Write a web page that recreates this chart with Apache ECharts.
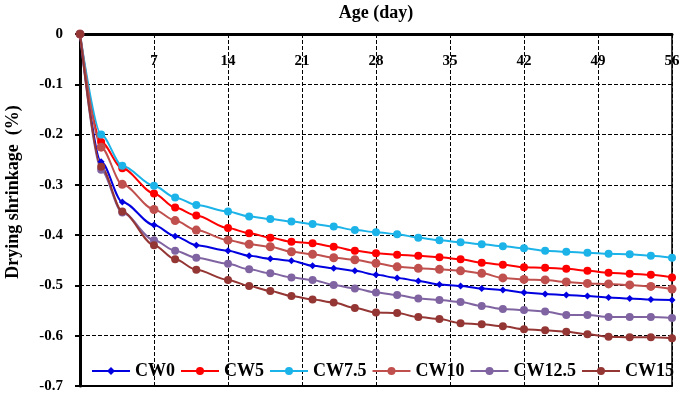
<!DOCTYPE html>
<html>
<head>
<meta charset="utf-8">
<script src="https://cdn.jsdelivr.net/npm/echarts@6/dist/echarts.min.js"></script>
<style>
  html, body { margin: 0; padding: 0; background: #fff; }
  #shrinkage { width: 685px; height: 395px; }
</style>
</head>
<body>
<div id="shrinkage"></div>
<script>
// 龄期 (day)
const days = [0, 2, 4, 7, 9, 11, 14, 16, 18, 20, 22, 24, 26, 28, 30, 32, 34, 36, 38, 40, 42, 44, 46, 48, 50, 52, 54, 56];

const cw0 = [0, -0.254, -0.334, -0.380, -0.402, -0.420, -0.431, -0.441, -0.447, -0.451, -0.461, -0.466, -0.471, -0.479, -0.485, -0.491, -0.498, -0.501, -0.506, -0.509, -0.514, -0.517, -0.519, -0.521, -0.524, -0.526, -0.528, -0.529];
const cw5 = [0, -0.215, -0.267, -0.317, -0.345, -0.361, -0.386, -0.396, -0.405, -0.413, -0.416, -0.423, -0.431, -0.436, -0.439, -0.441, -0.444, -0.448, -0.455, -0.459, -0.464, -0.465, -0.467, -0.471, -0.475, -0.477, -0.479, -0.484];
const cw75 = [0, -0.200, -0.262, -0.302, -0.325, -0.340, -0.353, -0.363, -0.368, -0.373, -0.378, -0.383, -0.390, -0.394, -0.398, -0.405, -0.410, -0.414, -0.418, -0.422, -0.426, -0.431, -0.433, -0.435, -0.437, -0.438, -0.441, -0.445];
const cw10 = [0, -0.225, -0.299, -0.349, -0.371, -0.390, -0.410, -0.418, -0.423, -0.433, -0.438, -0.445, -0.449, -0.456, -0.463, -0.466, -0.468, -0.471, -0.476, -0.485, -0.488, -0.489, -0.493, -0.496, -0.497, -0.499, -0.502, -0.507];
const cw125 = [0, -0.270, -0.355, -0.410, -0.431, -0.445, -0.457, -0.468, -0.476, -0.484, -0.489, -0.499, -0.506, -0.514, -0.519, -0.526, -0.529, -0.533, -0.541, -0.547, -0.549, -0.552, -0.559, -0.559, -0.563, -0.563, -0.563, -0.565];
const cw15 = [0, -0.264, -0.353, -0.420, -0.448, -0.469, -0.489, -0.501, -0.511, -0.521, -0.528, -0.534, -0.545, -0.554, -0.555, -0.563, -0.567, -0.575, -0.577, -0.581, -0.587, -0.589, -0.592, -0.597, -0.602, -0.603, -0.603, -0.605];

const seriesNames = ["CW0", "CW5", "CW7.5", "CW10", "CW12.5", "CW15"];
const seriesData = [cw0, cw5, cw75, cw10, cw125, cw15];
const seriesColors = ["#0000e0", "#ff0000", "#1cb3e8", "#c0504d", "#8064a2", "#943634"];

const font = "'Liberation Serif', 'Times New Roman', serif";

function pairs(ys) {
  return days.map((d, i) => [d, ys[i]]);
}

function drawLine() {
  const chart = echarts.init(document.getElementById("shrinkage"));

  const series = seriesNames.map((name, i) => {
    return {
      name: name,
      type: "line",
      xAxisIndex: 0,
      yAxisIndex: 0,
      smooth: 0.3,
      smoothMonotone: "x",
      symbol: i === 0 ? "diamond" : "circle",
      symbolSize: i === 0 ? 7 : (i === 3 ? 9 : 8),
      itemStyle: { color: seriesColors[i] },
      lineStyle: { color: seriesColors[i], width: 2 },
      data: pairs(seriesData[i])
    };
  });

  let option = {
    animation: false,
    backgroundColor: "#fff",
    grid: { left: 80, right: 13, top: 34, bottom: 9, outerBoundsMode: "none" },
    legend: {
      data: seriesNames,
      left: 86,
      top: 357,
      itemWidth: 38,
      itemHeight: 10,
      itemGap: 5,
      textStyle: { fontFamily: font, fontWeight: "bold", fontSize: 18, color: "#000" }
    },
    graphic: [
      {
        type: "text",
        x: 13,
        y: 192,
        rotation: Math.PI / 2,
        style: {
          text: "Drying shrinkage  (%)",
          font: "bold 18px " + font,
          fill: "#000",
          align: "center",
          verticalAlign: "middle"
        }
      }
    ],
    xAxis: [
      {
        type: "value",
        position: "top",
        min: 0,
        max: 56,
        interval: 7,
        name: "Age (day)",
        nameLocation: "middle",
        nameGap: 12,
        nameTextStyle: { fontFamily: font, fontWeight: "bold", fontSize: 18, color: "#000" },
        axisLine: { onZero: false, lineStyle: { color: "#000", width: 3 } },
        axisTick: { show: false },
        axisLabel: {
          inside: true,
          margin: 20,
          fontFamily: font,
          fontWeight: "bold",
          fontSize: 15,
          color: "#000",
          formatter: v => (v === 0 ? "" : String(v))
        },
        splitLine: { show: true, lineStyle: { color: "#000", type: "dashed", width: 1 } }
      },
      {
        // bottom frame
        type: "value",
        position: "bottom",
        min: 0,
        max: 56,
        axisLine: { onZero: false, lineStyle: { color: "#000", width: 2 } },
        axisTick: { show: false },
        axisLabel: { show: false },
        splitLine: { show: false }
      }
    ],
    yAxis: [
      {
        type: "value",
        min: -0.7,
        max: 0,
        interval: 0.1,
        axisLine: { onZero: false, lineStyle: { color: "#000", width: 3 } },
        axisTick: { show: true, length: 5, lineStyle: { color: "#000", width: 2 } },
        axisLabel: {
          margin: 17,
          fontFamily: font,
          fontWeight: "bold",
          fontSize: 15,
          color: "#000",
          formatter: v => (Math.abs(v) < 1e-9 ? "0" : v.toFixed(1))
        },
        splitLine: { show: true, lineStyle: { color: "#000", type: "dashed", width: 1 } }
      },
      {
        // right frame
        type: "value",
        position: "right",
        min: -0.7,
        max: 0,
        axisLine: { show: true, onZero: false, lineStyle: { color: "#000", width: 1.5 } },
        axisTick: { show: false },
        axisLabel: { show: false },
        splitLine: { show: false }
      }
    ],
    series: series
  };

  chart.setOption(option);
}

drawLine();
</script>
</body>
</html>
